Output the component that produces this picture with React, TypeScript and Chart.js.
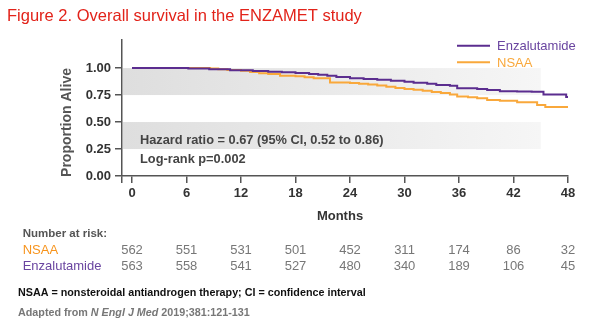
import { useEffect, useRef } from 'react';
import { Chart, registerables } from 'chart.js';

Chart.register(...registerables);

const titleText = 'Figure 2. Overall survival in the ENZAMET study';
const seriesNames = ['Enzalutamide', 'NSAA'];
const months = [0, 6, 12, 18, 24, 30, 36, 42, 48];
const yTicks = [0, 0.25, 0.5, 0.75, 1.0];

const enzaTimes = [0, 6.2, 8.5, 10.8, 13.3, 15.0, 16.5, 18.0, 19.5, 20.5, 21.5, 22.5, 24.0, 25.5, 27.0, 28.5, 30.0, 31.0, 32.5, 33.5, 35.0, 35.8, 38.0, 39.1, 40.5, 42.4, 44.0, 45.3, 47.8, 48];
const enzaSurv = [1.0, 0.997, 0.99, 0.98, 0.972, 0.966, 0.962, 0.955, 0.946, 0.938, 0.928, 0.918, 0.905, 0.898, 0.892, 0.882, 0.874, 0.864, 0.855, 0.843, 0.835, 0.812, 0.806, 0.796, 0.785, 0.782, 0.78, 0.756, 0.732, 0.732];

const nsaaTimes = [0, 8.6, 9.5, 10.5, 12.0, 13.0, 14.0, 15.0, 16.3, 18.0, 19.0, 20.0, 21.8, 24.0, 25.0, 26.0, 27.0, 28.0, 29.0, 30.0, 31.0, 32.0, 33.0, 34.0, 35.0, 35.8, 37.0, 38.0, 39.1, 40.5, 42.4, 44.6, 45.5, 48];
const nsaaSurv = [1.0, 0.995, 0.988, 0.982, 0.975, 0.963, 0.953, 0.945, 0.928, 0.924, 0.915, 0.905, 0.866, 0.862, 0.855, 0.848, 0.838, 0.826, 0.815, 0.806, 0.798, 0.789, 0.779, 0.77, 0.755, 0.737, 0.73, 0.72, 0.705, 0.698, 0.684, 0.657, 0.64, 0.64];

const atRiskNsaa = [562, 551, 531, 501, 452, 311, 174, 86, 32];
const atRiskEnza = [563, 558, 541, 527, 480, 340, 189, 106, 45];

const statLines = ['Hazard ratio = 0.67 (95% CI, 0.52 to 0.86)', 'Log-rank p=0.002'];
const footnote = 'NSAA = nonsteroidal antiandrogen therapy; CI = confidence interval';
const sourceParts = ['Adapted from ', 'N Engl J Med', ' 2019;381:121-131'];

const PURPLE = '#5b2d8f';
const PURPLE_TEXT = '#6a45a0';
const ORANGE = '#f9a83b';
const ORANGE_TEXT = '#f7941d';
const FONT = '"Liberation Sans", Arial, sans-serif';

function txt(ctx: CanvasRenderingContext2D, s: string, x: number, cy: number, size: number, weight: string, color: string, align: CanvasTextAlign = 'left', style = '') {
  ctx.font = `${style} ${weight} ${size}px ${FONT}`;
  ctx.fillStyle = color;
  ctx.textAlign = align;
  ctx.textBaseline = 'alphabetic';
  ctx.fillText(s, x, cy + size * 0.36);
}

const overlay = {
  id: 'overlay',
  beforeDraw(chart: any) {
    const { ctx, scales } = chart;
    const xs = scales.x;
    const ys = scales.y;
    const left = xs.left + 1;
    const right = xs.getPixelForValue(45);
    const g = ctx.createLinearGradient(left, 0, right, 0);
    g.addColorStop(0, '#dedede');
    g.addColorStop(1, '#f6f6f6');
    ctx.save();
    ctx.fillStyle = g;
    const bands = [[0.75, 1.0], [0.25, 0.5]];
    for (const [lo, hi] of bands) {
      const y1 = ys.getPixelForValue(hi);
      const y2 = ys.getPixelForValue(lo);
      ctx.fillRect(left, y1, right - left, y2 - y1);
    }
    ctx.restore();
  },
  afterDraw(chart: any) {
    const { ctx, scales } = chart;
    const xs = scales.x;
    ctx.save();
    // title
    txt(ctx, titleText, 7, 14.6, 16.5, 'normal', '#e2231a');
    // y title
    ctx.save();
    ctx.translate(66, 122.5);
    ctx.rotate(-Math.PI / 2);
    txt(ctx, 'Proportion Alive', 0, 0, 14, 'bold', '#555555', 'center');
    ctx.restore();
    // x title
    txt(ctx, 'Months', 340, 215, 13, 'bold', '#333333', 'center');
    // legend
    const legendY = [45.7, 62.3];
    const lineCols = [PURPLE, ORANGE];
    const textCols = [PURPLE_TEXT, ORANGE];
    seriesNames.forEach((n, i) => {
      ctx.strokeStyle = lineCols[i];
      ctx.lineWidth = 2;
      ctx.beginPath();
      ctx.moveTo(457, legendY[i]);
      ctx.lineTo(490, legendY[i]);
      ctx.stroke();
      txt(ctx, n, 497, legendY[i], 13, 'normal', textCols[i]);
    });
    // stats
    txt(ctx, statLines[0], 140, 139.5, 12.8, 'bold', '#444444');
    txt(ctx, statLines[1], 140, 158, 12.8, 'bold', '#444444');
    // at risk
    txt(ctx, 'Number at risk:', 22.7, 233, 11.5, 'bold', '#555555');
    txt(ctx, 'NSAA', 22.7, 249, 13, 'normal', ORANGE_TEXT);
    txt(ctx, 'Enzalutamide', 22.7, 265, 13, 'normal', PURPLE_TEXT);
    months.forEach((m, i) => {
      const px = xs.getPixelForValue(m);
      txt(ctx, String(atRiskNsaa[i]), px, 249, 13, 'normal', '#777777', 'center');
      txt(ctx, String(atRiskEnza[i]), px, 265, 13, 'normal', '#777777', 'center');
    });
    // footnotes
    txt(ctx, footnote, 18, 292.5, 10.75, 'bold', '#111111');
    let sx = 18;
    sourceParts.forEach((p, i) => {
      const style = i === 1 ? 'italic' : '';
      txt(ctx, p, sx, 312.5, 10.75, 'bold', '#777777', 'left', style);
      sx += ctx.measureText(p).width;
    });
    ctx.restore();
  },
};

export default function App() {
  const ref = useRef<HTMLCanvasElement | null>(null);
  useEffect(() => {
    if (!ref.current) return;
    const chart = new Chart(ref.current, {
      type: 'line',
      data: {
        datasets: [
          {
            label: seriesNames[0],
            data: enzaTimes.map((t, i) => ({ x: t, y: enzaSurv[i] })),
            borderColor: PURPLE,
            borderWidth: 2,
            pointRadius: 0,
            stepped: true,
            fill: false,
          },
          {
            label: seriesNames[1],
            data: nsaaTimes.map((t, i) => ({ x: t, y: nsaaSurv[i] })),
            borderColor: ORANGE,
            borderWidth: 2,
            pointRadius: 0,
            stepped: true,
            fill: false,
          },
        ],
      },
      options: {
        animation: false,
        responsive: false,
        devicePixelRatio: 1,
        layout: { padding: { left: 0, top: 40, right: 32, bottom: 0 } },
        plugins: {
          legend: { display: false },
          title: { display: false },
          tooltip: { enabled: false },
        },
        scales: {
          x: {
            type: 'linear',
            min: -1.1,
            max: 48,
            afterBuildTicks: (s: any) => {
              s.ticks = [-1.1, ...months].map((v) => ({ value: v }));
            },
            afterFit: (s: any) => {
              s.height = 149;
            },
            ticks: {
              callback: (v: any) => (v < 0 ? '' : String(v)),
              font: { family: FONT, size: 13, weight: 'bold' },
              color: '#333333',
              padding: 3,
              maxRotation: 0,
              autoSkip: false,
            },
            grid: { display: true, drawOnChartArea: false, drawTicks: true, tickLength: 7, color: '#555555', lineWidth: 1.5 },
            border: { display: true, color: '#555555', width: 1.5 },
          },
          y: {
            type: 'linear',
            min: 0,
            max: 1.26,
            afterBuildTicks: (s: any) => {
              s.ticks = yTicks.map((v) => ({ value: v }));
            },
            afterFit: (s: any) => {
              s.width = 122;
            },
            ticks: {
              callback: (v: any) => Number(v).toFixed(2),
              font: { family: FONT, size: 13, weight: 'bold' },
              color: '#333333',
              padding: 4,
              autoSkip: false,
            },
            grid: { display: true, drawOnChartArea: false, drawTicks: true, tickLength: 7, color: '#555555', lineWidth: 1.5 },
            border: { display: true, color: '#555555', width: 1.5 },
          },
        },
      },
      plugins: [overlay],
    });
    return () => chart.destroy();
  }, []);
  return (
    <div style={{ position: 'absolute', left: 0, top: 0, width: 600, height: 325, background: '#ffffff' }}>
      <canvas ref={ref} width={600} height={325} style={{ display: 'block' }} />
    </div>
  );
}
